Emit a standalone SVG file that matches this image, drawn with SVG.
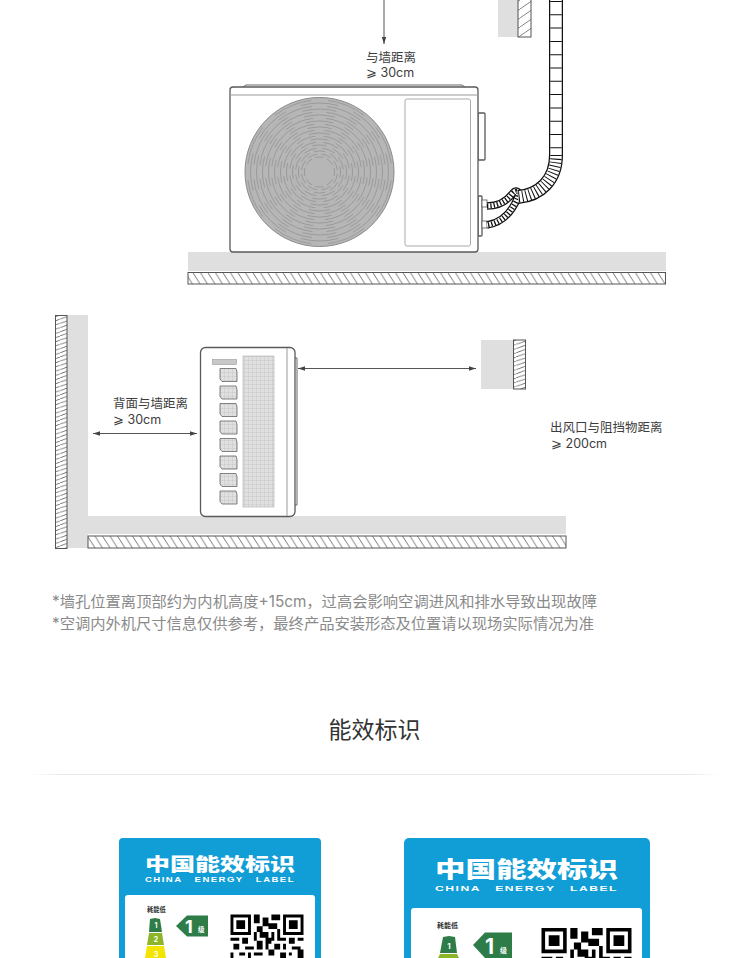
<svg xmlns="http://www.w3.org/2000/svg" width="750" height="958" viewBox="0 0 750 958">
<style>
text{font-family:"Inter","Noto Sans CJK SC","Liberation Sans",sans-serif}
.lab{font-size:12.5px;fill:#3c3c3c}
.note{font-size:15.3px;fill:#8a8a8a}
.wallg{fill:#dfdfdf}
.o{fill:#fff;stroke:#5a5a5a;stroke-width:1.3}
.l{fill:none;stroke:#9a9a9a;stroke-width:1}
.dim{stroke:#555;stroke-width:1;fill:none;marker-end:url(#ah);marker-start:url(#ahs)}
.a,.b{fill:none;stroke:#8e8e8e;stroke-width:.7;stroke-dasharray:.7 .3}
.a{stroke-dashoffset:-.15}
.b{stroke-dashoffset:-.65}
.pan{fill:url(#grid);stroke:#666;stroke-width:.8}
.logo{font-family:"Noto Sans CJK SC",sans-serif;font-weight:900;fill:#fff}
.logoe{font-family:"Liberation Sans",sans-serif;font-weight:700;fill:#fff;white-space:pre}
.card{fill:#119dd6}
</style>
<defs>
<pattern id="h1" width="7.500" height="12" patternUnits="userSpaceOnUse"><rect width="7.500" height="12" fill="#fff"/><path d="M0 0L7.500 12M-7.500 0L0 12M7.500 0L15 12" stroke="#555" stroke-width=".8"/></pattern>
<pattern id="h2" width="12" height="4.200" patternUnits="userSpaceOnUse"><rect width="12" height="4.200" fill="#fff"/><path d="M0 4.200L12 0M0 0L-12 4.200M12 4.200L24 0" stroke="#555" stroke-width=".8"/></pattern>
<pattern id="h3" width="13" height="9" patternUnits="userSpaceOnUse"><rect width="13" height="9" fill="#fff"/><path d="M0 9L13 0" stroke="#666" stroke-width=".8"/></pattern>
<pattern id="grid" width="4" height="4" patternUnits="userSpaceOnUse"><rect width="4" height="4" fill="#e0e0e0"/><path d="M0 0H4M0 0V4" stroke="#bcbcbc" stroke-width=".7"/></pattern>
<marker id="ah" markerWidth="8" markerHeight="6" refX="7" refY="3" orient="auto" markerUnits="userSpaceOnUse"><path d="M0 .8L7 3L0 5.200Z" fill="#444"/></marker>
<marker id="ahs" markerWidth="8" markerHeight="6" refX="1" refY="3" orient="auto" markerUnits="userSpaceOnUse"><path d="M8 .8L1 3L8 5.200Z" fill="#444"/></marker>
<linearGradient id="hr"><stop offset="0" stop-color="#e6e6e6" stop-opacity="0"/><stop offset=".05" stop-color="#e6e6e6"/><stop offset=".95" stop-color="#e6e6e6"/><stop offset="1" stop-color="#e6e6e6" stop-opacity="0"/></linearGradient>
<g id="qr">
<path fill-rule="evenodd" d="M0 0h7v7h-7zM1 1v5h5v-5zM2 2h3v3h-3zM18 0h7v7h-7zM19 1v5h5v-5zM20 2h3v3h-3z"/>
<path d="M8 0h2v3h-2zM11 1h2v3h-2zM14 0h3v2h-3zM9 4h2v2h-2zM13 3h3v2h-3zM8 6h1v3h-1zM10 6h3v2h-3zM14 6h1v3h-1zM16 5h1v3h-1zM12 8h2v2h-2zM0 8h3v1h-3zM4 8h2v2h-2zM16 8h3v1h-3zM20 8h2v2h-2zM23 8h2v1h-2zM1 10h2v2h-2zM5 11h3v1h-3zM9 9h2v3h-2zM12 10h1v2h-1zM15 10h2v2h-2zM18 10h1v2h-1zM21 11h3v1h-3zM0 13h1v2h-1zM3 13h2v1h-2zM6 13h1v2h-1zM8 13h3v1h-3zM13 12h2v2h-2zM17 13h2v2h-2zM20 13h1v1h-1zM23 12h2v3h-2zM2 15h3v1h-3zM9 15h2v2h-2zM12 15h3v1h-3zM16 16h2v1h-2zM20 15h2v2h-2z"/>
</g>
</defs>

<g id="top-wall">
<rect class="wallg" x="498" y="0" width="20" height="37"/>
<rect x="518" y="-2" width="13" height="39" fill="url(#h3)" stroke="#555"/>
</g>
<g id="floor-top">
<rect class="wallg" x="188" y="252" width="478" height="19"/>
<rect x="188" y="272.500" width="477.500" height="11.500" fill="url(#h1)" stroke="#555"/>
</g>

<g id="outdoor-front">
<rect class="o" x="478" y="113" width="7" height="47" rx="1" stroke-width="1"/>
<rect class="o" x="478" y="196" width="4" height="40" rx="1" stroke-width="1"/>
<path d="M243 87L246 85H462L465 87" fill="#fff" stroke="#666"/>
<rect class="o" x="230" y="87" width="248" height="165" rx="3"/>
<path class="l" d="M230 95H478"/>
<rect x="405" y="99" width="65.500" height="147" rx="2" fill="#fff" stroke="#aaa"/>
<circle cx="319.500" cy="172" r="74.500" fill="#b7b6b6" stroke="#8a8a8a"/>
<g id="fan">
<circle class="a" cx="319.500" cy="172" r="72" pathLength="8"/>
<circle class="b" cx="319.500" cy="172" r="69" pathLength="8"/>
<circle class="a" cx="319.500" cy="172" r="66" pathLength="8"/>
<circle class="b" cx="319.500" cy="172" r="63" pathLength="8"/>
<circle class="a" cx="319.500" cy="172" r="60" pathLength="8"/>
<circle class="b" cx="319.500" cy="172" r="57" pathLength="8"/>
<circle class="a" cx="319.500" cy="172" r="54" pathLength="8"/>
<circle class="b" cx="319.500" cy="172" r="51" pathLength="8"/>
<circle class="a" cx="319.500" cy="172" r="48" pathLength="8"/>
<circle class="b" cx="319.500" cy="172" r="45" pathLength="8"/>
<circle class="a" cx="319.500" cy="172" r="42" pathLength="8"/>
<circle class="b" cx="319.500" cy="172" r="39" pathLength="8"/>
<circle class="a" cx="319.500" cy="172" r="36" pathLength="8"/>
<circle class="b" cx="319.500" cy="172" r="33" pathLength="8"/>
<circle class="a" cx="319.500" cy="172" r="30" pathLength="8"/>
<circle class="b" cx="319.500" cy="172" r="27" pathLength="8"/>
<circle class="a" cx="319.500" cy="172" r="24" pathLength="8"/>
<circle class="b" cx="319.500" cy="172" r="21" pathLength="8"/>
<circle class="a" cx="319.500" cy="172" r="18" pathLength="8"/>
<circle class="b" cx="319.500" cy="172" r="15" pathLength="8"/>
</g>
</g>

<g id="hose">
<rect x="482" y="200" width="5" height="7" fill="#fff" stroke="#555" stroke-width=".8"/>
<rect x="482" y="221" width="5" height="7" fill="#fff" stroke="#555" stroke-width=".8"/>
<path d="M487 206C497 206 506 202 512 194C516 189 520 191 518 197C514 207 506 222 487 225" fill="none" stroke="#111" stroke-width="7.500"/>
<path d="M487 206C497 206 506 202 512 194C516 189 520 191 518 197C514 207 506 222 487 225" fill="none" stroke="#fff" stroke-width="5"/>
<path d="M487 206C497 206 506 202 512 194C516 189 520 191 518 197C514 207 506 222 487 225" fill="none" stroke="#111" stroke-width="5" stroke-dasharray="1.300 2"/>
<path d="M556 0V155C556 180 540 195 518 197" fill="none" stroke="#111" stroke-width="14"/>
<path d="M556 0V155C556 180 540 195 518 197" fill="none" stroke="#fff" stroke-width="11.500"/>
<path d="M556 0V155" fill="none" stroke="#111" stroke-width="11.500" stroke-dasharray="1 12.300" stroke-dashoffset="-1"/>
<path d="M556 155C556 180 540 195 518 197" fill="none" stroke="#111" stroke-width="11.500" stroke-dasharray="1 2.600"/>
</g>

<g id="floor-side">
<rect class="wallg" x="67" y="315" width="21" height="233"/>
<rect class="wallg" x="88" y="516" width="478" height="18"/>
<rect x="55.500" y="315.500" width="11.500" height="233" fill="url(#h2)" stroke="#555"/>
<rect x="88" y="536" width="478" height="12" fill="url(#h1)" stroke="#555"/>
</g>

<g id="outdoor-side">
<path d="M295 358H297V505H295" fill="#fff" stroke="#666"/>
<rect class="o" x="200.500" y="347.500" width="94.500" height="169" rx="5"/>
<path class="l" d="M287 348V516"/>
<rect x="243" y="356" width="31" height="151" fill="url(#grid)" stroke="#b0b0b0" stroke-width=".6"/>
<rect x="212.500" y="359.500" width="24" height="5" fill="#c8c8c8" stroke="#999" stroke-width=".6"/>
<path class="pan" d="M220 368.500H236L237 372V381.500H222L220 379Z"/>
<path class="pan" d="M220 386H236L237 389.500V399H222L220 396.500Z"/>
<path class="pan" d="M220 403.500H236L237 407V416.500H222L220 414Z"/>
<path class="pan" d="M220 421H236L237 424.500V434H222L220 431.500Z"/>
<path class="pan" d="M220 438.500H236L237 442V451.500H222L220 449Z"/>
<path class="pan" d="M220 456H236L237 459.500V469H222L220 466.500Z"/>
<path class="pan" d="M220 473.500H236L237 477V486.500H222L220 484Z"/>
<path class="pan" d="M220 491H236L237 494.500V504H222L220 501.500Z"/>
</g>

<g id="obstacle">
<rect class="wallg" x="481" y="340" width="33" height="49"/>
<rect x="513.500" y="340" width="12" height="49" fill="url(#h2)" stroke="#555"/>
</g>

<g id="connectors">
<path d="M384 0V44" stroke="#555" fill="none" marker-end="url(#ah)"/>
<path class="dim" d="M93 433.500H197"/>
<path class="dim" d="M298 368.500H476"/>
</g>

<g id="labels">
<text class="lab" x="366" y="62">与墙距离</text>
<text class="lab" x="366" y="77">⩾ 30cm</text>
<text class="lab" x="113" y="408">背面与墙距离</text>
<text class="lab" x="113" y="424">⩾ 30cm</text>
<text class="lab" x="550" y="432">出风口与阻挡物距离</text>
<text class="lab" x="551" y="448">⩾ 200cm</text>
<text class="note" x="52" y="607" textLength="545">*墙孔位置离顶部约为内机高度+15cm，过高会影响空调进风和排水导致出现故障</text>
<text class="note" x="52" y="629" textLength="542">*空调内外机尺寸信息仅供参考，最终产品安装形态及位置请以现场实际情况为准</text>
<text x="374.500" y="738" text-anchor="middle" font-size="23" fill="#333">能效标识</text>
</g>
<rect id="divider" x="30" y="774" width="690" height="1" fill="url(#hr)"/>

<g id="label-1">
<rect class="card" x="119" y="838" width="202" height="130" rx="4"/>
<text class="logo" x="145" y="871" font-size="18" textLength="150" lengthAdjust="spacingAndGlyphs">中国能效标识</text>
<text class="logoe" x="145" y="882" font-size="6.500" letter-spacing="1" textLength="150" lengthAdjust="spacingAndGlyphs">CHINA   ENERGY   LABEL</text>
<rect x="125" y="895" width="190" height="73" rx="3" fill="#fff"/>
<text x="147" y="911.500" font-size="6.300" font-weight="700" fill="#333">耗能低</text>
<path d="M150 919L155 918L160 919L162 932H149Z" fill="#2e7c48"/>
<path d="M149 933H162L164 945H147Z" fill="#8db52a"/>
<path d="M147 946H164L166 958H145Z" fill="#f4e500"/>
<text x="156" y="928" font-size="7" font-weight="700" fill="#fff" text-anchor="middle" font-family="Liberation Sans">1</text>
<text x="156" y="942" font-size="7" font-weight="700" fill="#fff" text-anchor="middle" font-family="Liberation Sans">2</text>
<text x="156" y="957" font-size="7" font-weight="700" fill="#fff" text-anchor="middle" font-family="Liberation Sans">3</text>
<path d="M176 926L187 915.500H208V936.500H187Z" fill="#2e7c48"/>
<text x="185" y="932.500" font-size="18" font-weight="700" fill="#fff" font-family="Liberation Sans">1</text>
<text x="198" y="932" font-size="6.500" font-weight="700" fill="#fff">级</text>
<use href="#qr" transform="translate(230.500 914.500) scale(2.92)"/>
</g>

<g id="label-2">
<rect class="card" x="404" y="838" width="246" height="130" rx="5"/>
<text class="logo" x="435" y="877" font-size="22" textLength="183" lengthAdjust="spacingAndGlyphs">中国能效标识</text>
<text class="logoe" x="435" y="891" font-size="8" letter-spacing="1" textLength="183" lengthAdjust="spacingAndGlyphs">CHINA   ENERGY   LABEL</text>
<rect x="411" y="908" width="231" height="60" rx="3" fill="#fff"/>
<text x="437" y="928" font-size="7" font-weight="700" fill="#333">耗能低</text>
<path d="M443 937L449 936L455 937L457 953H440Z" fill="#2e7c48"/>
<path d="M440 954H457L459 958H438Z" fill="#8db52a"/>
<text x="449" y="949" font-size="8" font-weight="700" fill="#fff" text-anchor="middle" font-family="Liberation Sans">1</text>
<path d="M473 945L485 932.500H512V958H485Z" fill="#2e7c48"/>
<text x="485" y="954" font-size="21" font-weight="700" fill="#fff" font-family="Liberation Sans">1</text>
<text x="500" y="953" font-size="7" font-weight="700" fill="#fff">级</text>
<use href="#qr" transform="translate(541.500 928) scale(3.6)"/>
</g>
</svg>
